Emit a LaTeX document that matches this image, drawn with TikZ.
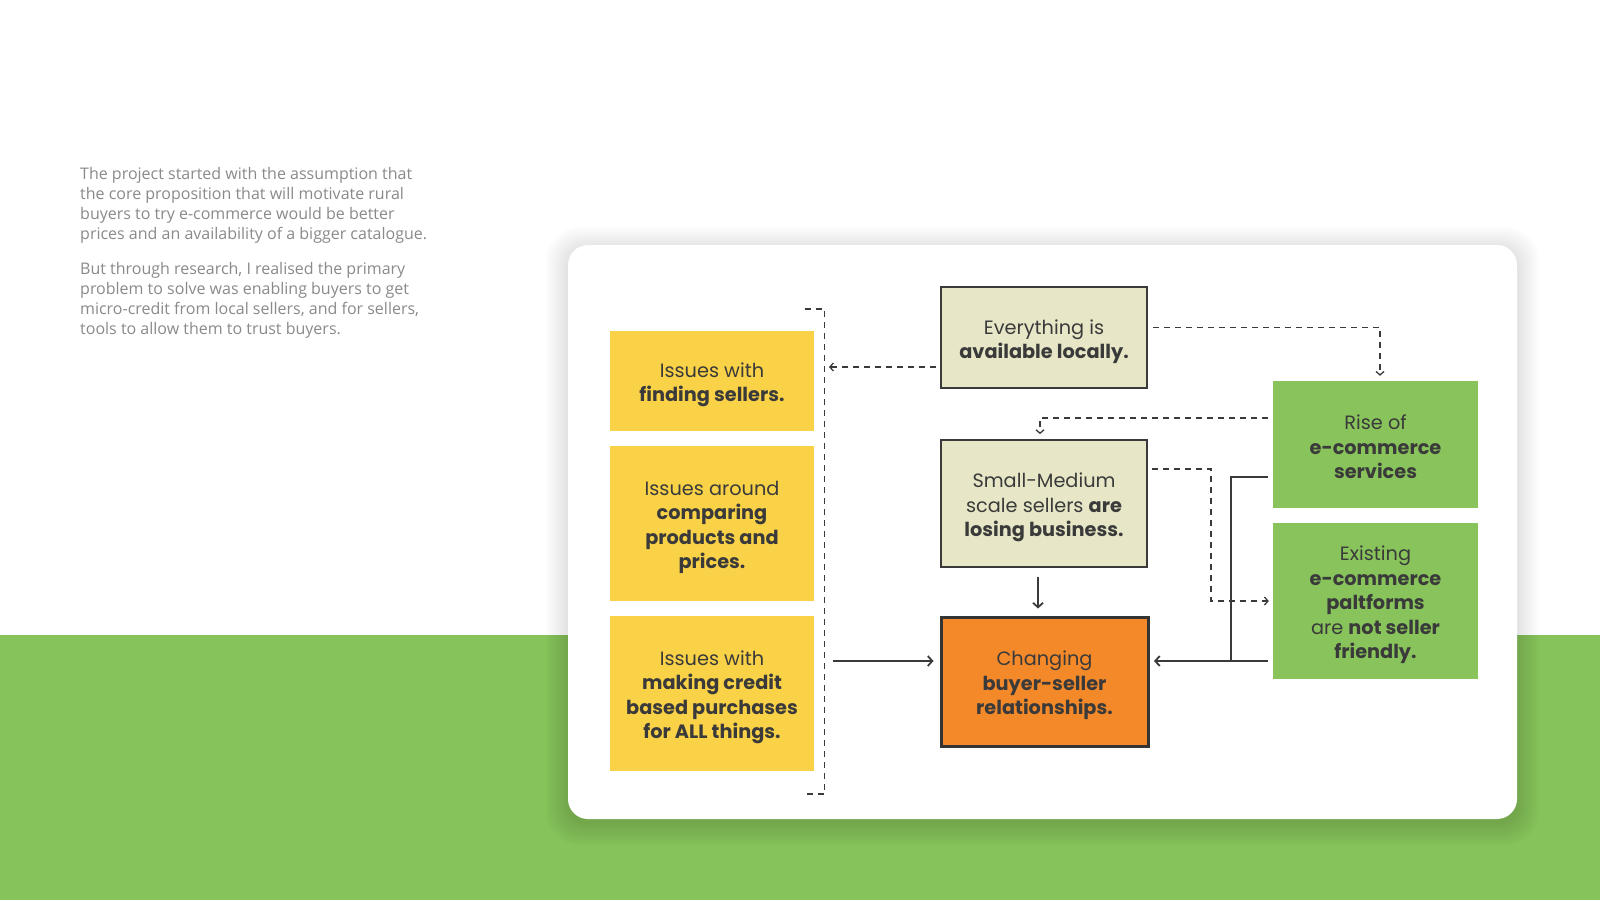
\documentclass[tikz,border=0pt]{standalone}
\usepackage{fontspec}
\setmainfont{Poppins}
\newfontfamily\parafont{Open Sans}
\usetikzlibrary{arrows.meta}
\definecolor{bandgreen}{HTML}{86C35A}
\definecolor{boxgreen}{HTML}{88C45B}
\definecolor{boxyellow}{HTML}{FAD247}
\definecolor{boxbeige}{HTML}{E7E7C7}
\definecolor{boxorange}{HTML}{F4892A}
\definecolor{ink}{HTML}{3A3A3A}
\definecolor{paragrey}{HTML}{8A8A8A}
\tikzset{
  box/.style={inner sep=0pt},
  txt/.style={inner sep=0pt, align=center, text=ink, font=\fontsize{19.3}{24.5}\selectfont},
  ybox/.style={box, fill=boxyellow, minimum width=204pt},
  gbox/.style={box, fill=boxgreen, minimum width=205pt},
  bbox/.style={box, fill=boxbeige, draw=ink, line width=1.8pt, minimum width=206pt},
  obox/.style={box, fill=boxorange, draw=ink!90!black, line width=3pt, minimum width=207pt},
  tip/.style={-{Straight Barb[length=3.5pt,width=8pt,line width=1.3pt]}},
  stip/.style={-{Straight Barb[length=4.5pt,width=10pt,line width=1.8pt]}},
  dline/.style={draw=ink, line width=1.4pt, dash pattern=on 6pt off 5pt},
  sline/.style={draw=ink, line width=2pt},
  para/.style={anchor=north west, align=left, inner sep=0pt, text=paragrey, font=\parafont\fontsize{16}{20}\selectfont}
}
\begin{document}
\begin{tikzpicture}[x=1pt,y=-1pt]
\useasboundingbox (0,0) rectangle (1600,900);
\fill[white] (0,0) rectangle (1600,900);
\fill[bandgreen] (0,635) rectangle (1600,900);
% card shadow
\foreach \i in {1,...,14}{
  \fill[black, opacity=0.007, rounded corners={20+\i}] ({568-1.6*\i},{245-1.6*\i+4}) rectangle ({1517+1.6*\i},{819+1.6*\i+4});
}
\fill[white, rounded corners=20] (568,245) rectangle (1517,819);

% paragraph text
\node[para] (p1) at (80,167) {The project started with the assumption that\\the core proposition that will motivate rural\\buyers to try e-commerce would be better\\prices and an availability of a bigger catalogue.};
\node[para] (p2) at (80,262) {But through research, I realised the primary\\problem to solve was enabling buyers to get\\micro-credit from local sellers, and for sellers,\\tools to allow them to trust buyers.};

% yellow boxes
\node[ybox, minimum height=100pt] (y1) at (712,381) {};
\node[ybox, minimum height=155pt] (y2) at (712,523.5) {};
\node[ybox, minimum height=155pt] (y3) at (712,693.5) {};
\node[txt] (y1t) at ([yshift=-4pt]y1.center) {Issues with\\\textbf{finding sellers.}};
\node[txt] (y2t) at ([yshift=-4pt]y2.center) {Issues around\\\textbf{comparing}\\\textbf{products and}\\\textbf{prices.}};
\node[txt] (y3t) at ([yshift=-4pt]y3.center) {Issues with\\\textbf{making credit}\\\textbf{based purchases}\\\textbf{for ALL things.}};

% middle boxes
\node[bbox, minimum height=101pt] (ev) at (1044,337.5) {};
\node[bbox, minimum height=127pt] (sm) at (1044,503.5) {};
\node[obox, minimum height=129pt] (ch) at (1044.5,681.5) {};
\node[txt] (evt) at ([yshift=-4pt]ev.center) {Everything is\\\textbf{available locally.}};
\node[txt] (smt) at ([yshift=-4pt]sm.center) {Small-Medium\\scale sellers \textbf{are}\\\textbf{losing business.}};
\node[txt] (cht) at ([yshift=-4pt]ch.center) {Changing\\\textbf{buyer-seller}\\\textbf{relationships.}};

% green boxes
\node[gbox, minimum height=127pt] (ri) at (1375.5,444.5) {};
\node[gbox, minimum height=156pt] (ex) at (1375.5,601) {};
\node[txt] (rit) at ([yshift=-2.5pt]ri.center) {Rise of\\\textbf{e-commerce}\\\textbf{services}};
\node[txt] (ext) at ([yshift=-4pt]ex.center) {Existing\\\textbf{e-commerce}\\\textbf{paltforms}\\are \textbf{not seller}\\\textbf{friendly.}};

% bracket
\coordinate (bt) at (824.5,309);
\coordinate (bb) at (824.5,794);
\coordinate (bin) at (829,367);
\coordinate (bout) at (833,661);
\coordinate (jn) at (1231,661);
\draw[dline] ([xshift=-20pt]bt) -- (bt) -- (bb) -- ([xshift=-20pt]bb);

% dashed connectors
\draw[dline, tip, shorten <=4pt] ([yshift=-29.5pt]ev.west) -- (bin);
\draw[dline, tip, shorten <=5pt, shorten >=5pt] ([yshift=10pt]ev.east) -| ([xshift=4.5pt]ri.north);
\draw[dline, tip, shorten <=5pt, shorten >=5pt] ([yshift=26.5pt]ri.west) -| ([xshift=-4pt]sm.north);
\draw[dline, tip, shorten <=4pt, shorten >=4pt] ([yshift=34.5pt]sm.east) -- ++(63,0) |- (ex.west);

% solid connectors
\draw[sline, stip, shorten <=9.5pt, shorten >=7pt] ([xshift=-6pt]sm.south) -- ([xshift=-6.5pt]ch.north);
\draw[sline, stip, shorten >=6pt] (bout) -- ([yshift=20.5pt]ch.west);
\draw[sline, shorten <=5pt] ([yshift=-32.2pt]ri.west) -| (jn);
\draw[sline, stip, shorten <=5pt, shorten >=4.5pt] ([yshift=-60pt]ex.west) -- ([yshift=20.5pt]ch.east);
\end{tikzpicture}
\end{document}
